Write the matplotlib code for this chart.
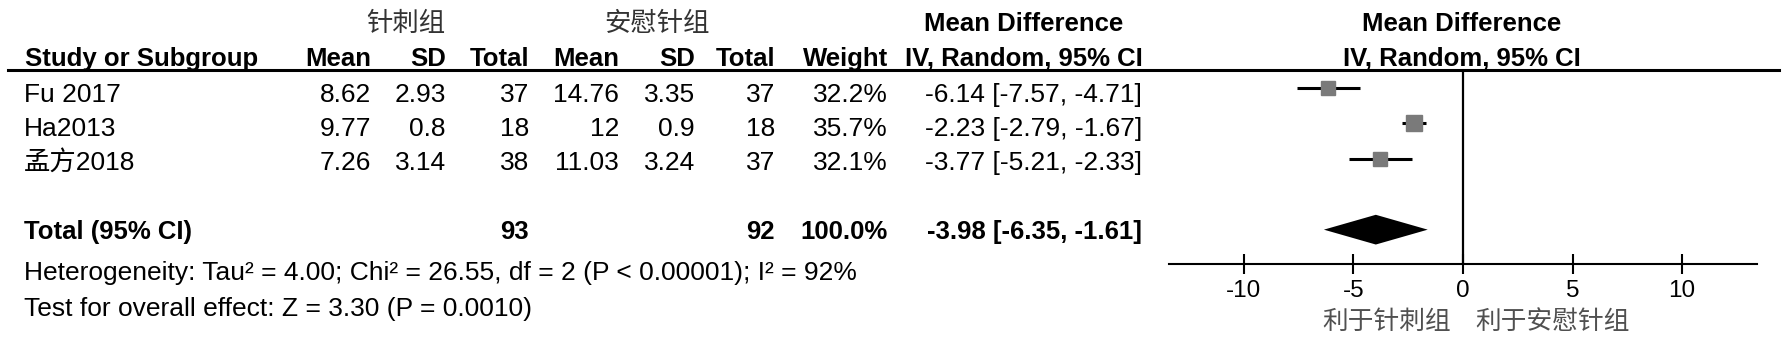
import matplotlib
matplotlib.use("Agg")
import matplotlib.pyplot as plt
from matplotlib.lines import Line2D
from matplotlib.transforms import blended_transform_factory

plt.rcParams["font.family"] = ["Liberation Sans", "Noto Sans CJK SC", "DejaVu Sans"]

studies = ["Fu 2017", "Ha2013", "孟方2018"]
acu_mean = [8.62, 9.77, 7.26]
acu_sd = [2.93, 0.8, 3.14]
acu_n = [37, 18, 38]
sham_mean = [14.76, 12, 11.03]
sham_sd = [3.35, 0.9, 3.24]
sham_n = [37, 18, 37]
weights = [32.2, 35.7, 32.1]
md = [-6.14, -2.23, -3.77]
ci_low = [-7.57, -2.79, -5.21]
ci_high = [-4.71, -1.67, -2.33]
total_n = [93, 92]
total_weight = 100.0
total_md = -3.98
total_ci = [-6.35, -1.61]
ticks = [-10, -5, 0, 5, 10]
group_names = ["针刺组", "安慰针组"]
favours = ["利于针刺组", "利于安慰针组"]
heterogeneity = "Heterogeneity: Tau² = 4.00; Chi² = 26.55, df = 2 (P < 0.00001); I² = 92%"
overall = "Test for overall effect: Z = 3.30 (P = 0.0010)"

W, H = 1789, 344
fig = plt.figure(figsize=(W / 100, H / 100), dpi=100)

# background axes in pixel units for the table layout
tab = fig.add_axes([0, 0, 1, 1])
tab.set_xlim(0, W)
tab.set_ylim(H, 0)
tab.axis("off")

# forest plot axes (rows 0..2 studies, row 4 pooled)
ax = fig.add_axes([1169 / W, 1 - 264 / H, 588 / W, 194 / H])
ax.set_xlim(-13.42, 13.42)
ax.set_ylim(4.97, -0.51)
for side in ["top", "right", "left"]:
    ax.spines[side].set_visible(False)
ax.spines["bottom"].set_linewidth(1.5)
ax.set_yticks([])
ax.set_xticks(ticks)
ax.set_xticklabels([str(t) for t in ticks])
ax.tick_params(axis="x", direction="inout", length=13.7, width=1.5, labelsize=17.5, pad=5)
ax.patch.set_alpha(0)

ax.axvline(0, color="black", lw=1.6, zorder=1)
rows = list(range(len(studies)))
ax.hlines(rows, ci_low, ci_high, color="black", lw=2.2, zorder=2)
for r, m, w in zip(rows, md, weights):
    size = 11.0 * (w / max(weights)) ** 0.5
    ax.plot(m, r, marker="s", ms=size, color="#7a7a7a", mec="#7a7a7a", zorder=3)

total_row = 4
h = 0.42
ax.fill([total_ci[0], total_md, total_ci[1], total_md],
        [total_row, total_row - h, total_row, total_row + h],
        color="black", lw=0, zorder=3)

# favours labels: x in data units, y in pixels
fav_tr = blended_transform_factory(ax.transData, tab.transData)
for label, x, ha in zip(favours, [-0.55, 0.55], ["right", "left"]):
    ax.text(x, 322, label, transform=fav_tr, ha=ha, va="center", fontsize=18.5,
            color="#505050", family="Noto Sans CJK SC", clip_on=False)

# table text, positions in pixels, y is the text baseline
fs = 19
bfs = 18.5


def put(x, y, s, ha="right", bold=False, **kw):
    tab.text(x, y, s, ha=ha, va="baseline", fontsize=kw.pop("fontsize", bfs if bold else fs),
             fontweight="bold" if bold else "normal", **kw)


hdr_y = 66
grp_y = 31
row_y = [102, 136, 170]
total_y = 239
put(25, hdr_y, "Study or Subgroup", ha="left", bold=True)
col_x = [371, 446, 529, 619, 695, 775, 888]
for x, s in zip(col_x, ["Mean", "SD", "Total", "Mean", "SD", "Total", "Weight"]):
    put(x, hdr_y, s, bold=True)
put(1024, grp_y, "Mean Difference", ha="center", bold=True)
put(1024, hdr_y, "IV, Random, 95% CI", ha="center", bold=True)
put(1462, grp_y, "Mean Difference", ha="center", bold=True)
put(1462, hdr_y, "IV, Random, 95% CI", ha="center", bold=True)
for x, s in zip([406, 657], group_names):
    put(x, grp_y, s, ha="center", fontsize=19, color="#333333", family="Noto Sans CJK SC")

for i in rows:
    y = row_y[i]
    put(24, y, studies[i], ha="left")
    vals = [acu_mean[i], acu_sd[i], acu_n[i], sham_mean[i], sham_sd[i], sham_n[i]]
    for x, v in zip(col_x[:6], vals):
        put(x, y, "{:g}".format(v))
    put(col_x[6], y, "{:.1f}%".format(weights[i]))
    put(1142, y, "{:.2f} [{:.2f}, {:.2f}]".format(md[i], ci_low[i], ci_high[i]))

put(24, total_y, "Total (95% CI)", ha="left", bold=True)
put(col_x[2], total_y, str(total_n[0]), bold=True)
put(col_x[5], total_y, str(total_n[1]), bold=True)
put(col_x[6], total_y, "{:.1f}%".format(total_weight), bold=True)
put(1142, total_y, "{:.2f} [{:.2f}, {:.2f}]".format(total_md, total_ci[0], total_ci[1]), bold=True)
put(24, 280, heterogeneity, ha="left")
put(24, 316, overall, ha="left")

# header rule across table and plot
tab.add_line(Line2D([8, 1779], [70, 70], color="black", lw=2.2))

fig.savefig("out.png", dpi=100)
